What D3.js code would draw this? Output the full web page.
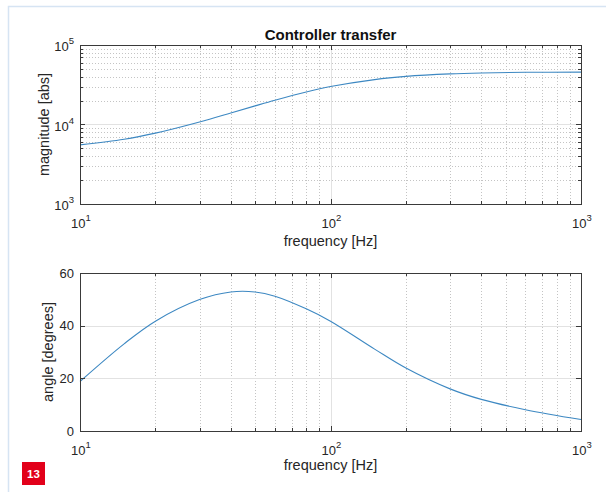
<!DOCTYPE html>
<html>
<head>
<meta charset="utf-8">
<script src="https://cdn.jsdelivr.net/npm/d3@7/dist/d3.min.js"></script>
<style>
  html, body { margin: 0; padding: 0; background: #fff; }
  text { font-family: "Liberation Sans", Arial, sans-serif; fill: #262626; }
</style>
</head>
<body>
<div id="chart"></div>
<script>
'use strict';

// values
var freq      = [10, 15, 20, 30, 40, 50, 60, 80, 100, 150, 200, 300, 400, 600, 1000];
var magnitude = [5546, 6516, 7792, 10772, 13960, 17140, 20190, 25640, 29990, 36720, 40260, 43300, 44500, 45320, 45640];
var angle     = [18.8, 33.1, 41.7, 49.9, 52.8, 52.8, 51.2, 46.4, 41.7, 31.1, 23.9, 16.0, 12.0, 8.1, 4.35];

var xDecades   = [1, 2, 3];
var magDecades = [3, 4, 5];
var angleTicks = [0, 20, 40, 60];

var title  = 'Controller transfer';
var xLabel = 'frequency [Hz]';

var width = 606;
var height = 492;

var svg = d3.select('#chart')
            .append('svg')
            .attr('width', width)
            .attr('height', height);

// page frame (top and left edges only)
svg.append('path')
   .attr('d', 'M8.5,492 L8.5,6.5 L606,6.5')
   .attr('fill', 'none')
   .attr('stroke', '#d6e4f3')
   .attr('stroke-width', 1.5);

var left = 80, right = 581;

var x = d3.scaleLog().domain([10, 1000]).range([left, right]);

// draws one boxed MATLAB style axes
var drawPanel = function(opts){
  var y = opts.y;
  var top = opts.top, bottom = opts.bottom;
  var g = svg.append('g');

  var xMinor = x.ticks().filter(function(d){ return Math.abs(Math.log10(d) % 1) > 1e-9; });

  // minor grid
  g.selectAll('.xminor').data(xMinor).enter().append('line')
   .attr('x1', function(d){ return Math.round(x(d)) + 0.5; })
   .attr('x2', function(d){ return Math.round(x(d)) + 0.5; })
   .attr('y1', top).attr('y2', bottom)
   .attr('stroke', '#c4c4c4').attr('stroke-dasharray', '1,2');

  if(opts.yMinor){
    g.selectAll('.yminor').data(opts.yMinor).enter().append('line')
     .attr('x1', left).attr('x2', right)
     .attr('y1', function(d){ return Math.round(y(d)) + 0.5; })
     .attr('y2', function(d){ return Math.round(y(d)) + 0.5; })
     .attr('stroke', '#c4c4c4').attr('stroke-dasharray', '1,2');
  }

  // major grid
  g.selectAll('.xmajor').data(xDecades).enter().append('line')
   .attr('x1', function(d){ return Math.round(x(Math.pow(10, d))) + 0.5; })
   .attr('x2', function(d){ return Math.round(x(Math.pow(10, d))) + 0.5; })
   .attr('y1', top).attr('y2', bottom)
   .attr('stroke', '#e2e2e2');

  g.selectAll('.ymajor').data(opts.yMajor).enter().append('line')
   .attr('x1', left).attr('x2', right)
   .attr('y1', function(d){ return Math.round(y(d)) + 0.5; })
   .attr('y2', function(d){ return Math.round(y(d)) + 0.5; })
   .attr('stroke', '#e2e2e2');

  // curve
  var line = d3.line()
               .x(function(d){ return x(d[0]); })
               .y(function(d){ return y(d[1]); })
               .curve(d3.curveCatmullRom.alpha(0.5));

  g.append('path')
   .attr('d', line(d3.zip(freq, opts.values)))
   .attr('fill', 'none')
   .attr('stroke', '#3d88c2')
   .attr('stroke-width', 1.1);

  // inward ticks on all four sides
  var tickPath = '';
  xMinor.forEach(function(d){
    var px = Math.round(x(d)) + 0.5;
    tickPath += 'M' + px + ',' + bottom + 'v-3M' + px + ',' + top + 'v3';
  });
  xDecades.forEach(function(d){
    var px = Math.round(x(Math.pow(10, d))) + 0.5;
    tickPath += 'M' + px + ',' + bottom + 'v-5M' + px + ',' + top + 'v5';
  });
  (opts.yMinor || []).forEach(function(d){
    var py = Math.round(y(d)) + 0.5;
    tickPath += 'M' + left + ',' + py + 'h3M' + right + ',' + py + 'h-3';
  });
  opts.yMajor.forEach(function(d){
    var py = Math.round(y(d)) + 0.5;
    tickPath += 'M' + left + ',' + py + 'h5M' + right + ',' + py + 'h-5';
  });
  g.append('path').attr('d', tickPath).attr('stroke', '#3a3a3a').attr('fill', 'none');

  g.append('rect')
   .attr('x', left + 0.5).attr('y', top + 0.5)
   .attr('width', right - left).attr('height', bottom - top)
   .attr('fill', 'none').attr('stroke', '#3a3a3a');

  // x tick labels 10^n
  xDecades.forEach(function(d){
    var t = g.append('text')
             .attr('x', x(Math.pow(10, d)) + 1)
             .attr('y', bottom + 23.5)
             .attr('text-anchor', 'middle')
             .attr('font-size', 13);
    t.append('tspan').text('10');
    t.append('tspan').attr('dy', -7).attr('font-size', 9.5).text(d);
  });

  // y tick labels
  opts.yMajor.forEach(function(d){
    var t = g.append('text')
             .attr('x', left - 6)
             .attr('y', y(d) + (opts.log ? 6 : 4.5))
             .attr('text-anchor', 'end')
             .attr('font-size', 13);
    if(opts.log){
      t.append('tspan').text('10');
      t.append('tspan').attr('dy', -7).attr('font-size', 9.5).text(Math.round(Math.log10(d)));
    } else {
      t.text(d);
    }
  });

  // axis labels
  g.append('text')
   .attr('x', (left + right) / 2)
   .attr('y', opts.xLabelY)
   .attr('text-anchor', 'middle')
   .attr('font-size', 14.5)
   .text(xLabel);

  g.append('text')
   .attr('transform', 'translate(' + opts.yLabelX + ',' + (top + bottom) / 2 + ') rotate(-90)')
   .attr('text-anchor', 'middle')
   .attr('font-size', 14.5)
   .text(opts.yLabel);
};

// top panel: magnitude on log axes
var yMag = d3.scaleLog().domain([1e3, 1e5]).range([204, 45]);
var magMinor = yMag.ticks().filter(function(d){ return Math.abs(Math.log10(d) % 1) > 1e-9; });

drawPanel({
  y: yMag, top: 45, bottom: 204, log: true,
  yMajor: magDecades.map(function(d){ return Math.pow(10, d); }),
  yMinor: magMinor,
  values: magnitude,
  yLabel: 'magnitude [abs]', yLabelX: 49, xLabelY: 246
});

// bottom panel: phase on linear axes
var yAng = d3.scaleLinear().domain([0, 60]).range([431, 273]);

drawPanel({
  y: yAng, top: 273, bottom: 431, log: false,
  yMajor: angleTicks,
  values: angle,
  yLabel: 'angle [degrees]', yLabelX: 53, xLabelY: 470
});

svg.append('text')
   .attr('x', (left + right) / 2)
   .attr('y', 40)
   .attr('text-anchor', 'middle')
   .attr('font-size', 15)
   .attr('font-weight', 'bold')
   .style('fill', '#111')
   .text(title);

// page number badge
svg.append('rect')
   .attr('x', 22).attr('y', 462)
   .attr('width', 23).attr('height', 23)
   .attr('fill', '#e2001a');

svg.append('text')
   .attr('x', 33.5).attr('y', 478)
   .attr('text-anchor', 'middle')
   .attr('font-size', 11.5)
   .attr('font-weight', 'bold')
   .style('fill', '#fff')
   .text('13');
</script>
</body>
</html>
